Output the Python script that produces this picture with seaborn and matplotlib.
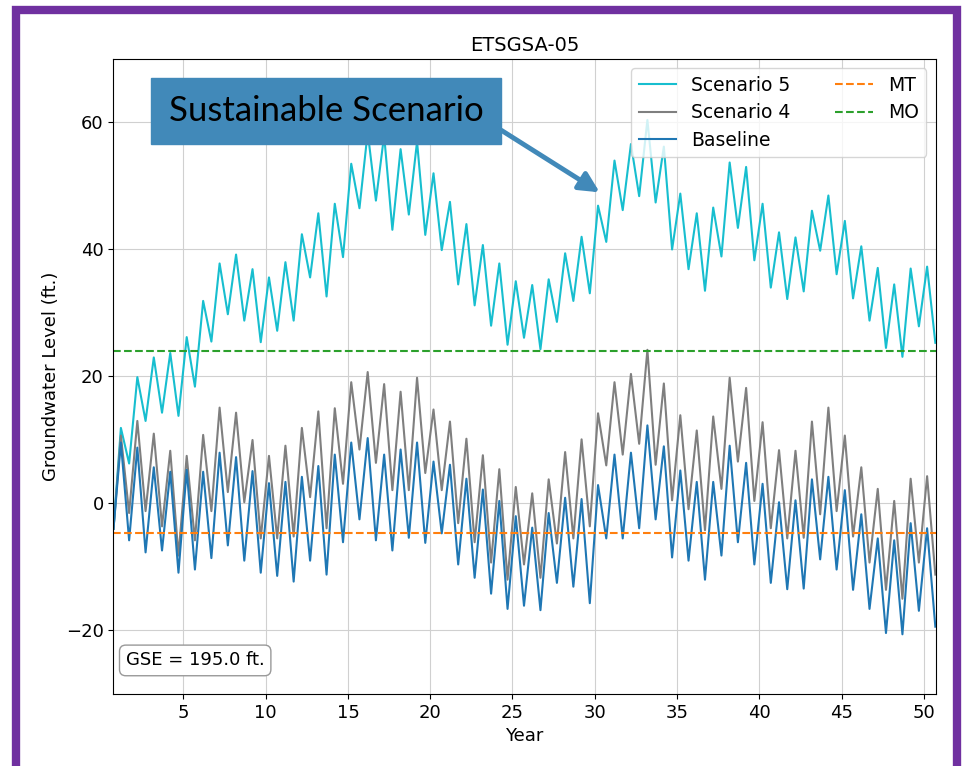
import numpy as np
import pandas as pd
import matplotlib
matplotlib.use("Agg")
import matplotlib.pyplot as plt
import seaborn as sns
from matplotlib.patches import Rectangle

# annual high / low water levels (ft.), years 1..50
years = list(range(1, 51))
start_level = -4.0

s5_high = [11.9, 19.9, 23.0, 23.7, 26.2, 31.9, 37.8, 39.2, 36.9, 35.6,
           38.0, 42.4, 45.7, 47.2, 53.5, 58.5, 58.0, 55.8, 57.0, 52.0,
           47.5, 44.0, 40.7, 37.8, 35.0, 34.4, 35.3, 39.4, 42.0, 46.9,
           54.0, 56.6, 60.4, 56.2, 48.8, 45.7, 46.6, 53.7, 53.0, 47.2,
           42.7, 41.9, 46.1, 48.5, 44.5, 40.5, 37.1, 34.5, 37.0, 37.3]
s5_low = [6.3, 13.0, 14.3, 13.8, 18.4, 25.5, 29.8, 28.8, 25.4, 27.2,
          28.8, 35.6, 32.6, 38.8, 46.5, 47.7, 43.1, 45.5, 42.3, 39.9,
          34.5, 31.2, 28.0, 25.0, 26.1, 24.3, 28.6, 31.9, 33.1, 41.2,
          46.2, 48.4, 47.4, 40.0, 36.9, 33.5, 38.9, 43.4, 38.3, 34.0,
          32.2, 33.4, 39.8, 36.1, 32.3, 28.8, 24.5, 23.1, 27.9, 25.3]

s4_high = [10.7, 13.0, 11.0, 8.3, 7.5, 10.8, 15.1, 14.3, 10.0, 7.5,
           9.1, 11.9, 14.5, 15.0, 19.1, 20.7, 18.8, 17.6, 19.8, 14.8,
           12.9, 10.2, 7.6, 5.4, 2.6, 1.6, 3.8, 8.1, 10.1, 14.2,
           19.1, 20.4, 24.2, 18.9, 13.9, 11.5, 13.7, 19.8, 18.2, 12.8,
           8.4, 8.3, 12.9, 15.1, 10.7, 5.7, 2.3, 0.4, 3.9, 4.3]
s4_low = [-1.5, -1.2, -3.6, -8.2, -5.8, -1.2, 1.8, 0.2, -5.5, -5.5,
          -5.2, 1.0, -3.9, 3.1, 8.5, 6.4, 2.1, 2.1, 4.8, 2.1,
          -3.1, -6.1, -9.3, -12.0, -9.6, -11.7, -6.3, -5.5, -3.6, 6.0,
          7.7, 9.4, 6.1, 0.5, -0.9, -4.2, 2.3, 6.6, 0.4, -3.9,
          -5.5, -5.4, -1.7, -1.2, -5.2, -9.3, -13.6, -15.0, -9.3, -11.2]

base_high = [9.6, 8.8, 5.7, 5.0, 5.3, 5.0, 8.0, 7.3, 5.1, 3.2,
             3.4, 4.2, 5.9, 7.7, 9.6, 10.3, 7.7, 8.5, 9.6, 6.6,
             6.1, 3.9, 2.2, 0.4, -2.0, -3.8, -1.5, 0.9, 0.7, 2.9,
             7.7, 8.0, 12.3, 9.0, 5.2, 3.4, 3.4, 9.1, 6.4, 3.1,
             0.2, 0.5, 3.8, 4.2, 2.1, -1.7, -5.5, -5.8, -3.1, -3.9]
base_low = [-5.8, -7.7, -7.4, -10.9, -10.4, -8.6, -6.6, -9.0, -10.9, -11.4,
            -12.3, -9.0, -11.2, -6.1, -2.5, -5.8, -7.4, -5.4, -6.2, -4.7,
            -9.6, -11.7, -14.2, -16.6, -16.1, -16.8, -12.5, -13.1, -15.7, -5.5,
            -5.5, -3.9, -2.5, -8.5, -9.0, -12.0, -8.2, -6.1, -9.6, -12.5,
            -13.5, -13.4, -8.8, -10.4, -13.6, -16.6, -20.4, -20.6, -16.9, -19.4]

mt_level = -4.7
mo_level = 24.0

names = ["Scenario 5", "Scenario 4", "Baseline"]
colors = ["#17becf", "#7f7f7f", "#1f77b4"]

# time of each turning point: high early in the year, low later
t = [0.75]
for y in years:
    t += [y + 0.2, y + 0.7]

rows = []
for name, hi, lo in zip(names, [s5_high, s4_high, base_high],
                        [s5_low, s4_low, base_low]):
    vals = [start_level]
    for h, l in zip(hi, lo):
        vals += [h, l]
    rows.append(pd.DataFrame({"Year": t, "Level": vals, "Series": name}))
df = pd.concat(rows, ignore_index=True)

fig = plt.figure(figsize=(9.65, 7.66), dpi=100)
ax = fig.add_axes([0.1176, 0.094, 0.852, 0.829])

sns.lineplot(data=df, x="Year", y="Level", hue="Series", hue_order=names,
             palette=colors, estimator=None, sort=False, lw=1.5, ax=ax)
for line in ax.get_lines():
    line.set_solid_joinstyle("round")
ax.axhline(mt_level, color="#ff7f0e", ls="--", lw=1.5, label="MT")
ax.axhline(mo_level, color="#2ca02c", ls="--", lw=1.5, label="MO")

ax.set_xlim(0.75, 50.72)
ax.set_ylim(-30, 70)
ax.set_xticks([5, 10, 15, 20, 25, 30, 35, 40, 45, 50])
ax.set_yticks([-20, 0, 20, 40, 60])
ax.tick_params(labelsize=13)
ax.grid(True, color="#d0d0d0")
ax.set_title("ETSGSA-05", fontsize=14)
ax.set_xlabel("Year", fontsize=13)
ax.set_ylabel("Groundwater Level (ft.)", fontsize=13)

h, l = ax.get_legend_handles_labels()
ax.legend(h, l, loc="upper right", ncol=2, fontsize=13.5, columnspacing=2.4,
          labelspacing=0.45)

ax.text(0.015, 0.045, "GSE = 195.0 ft.", transform=ax.transAxes, fontsize=13,
        bbox=dict(boxstyle="round,pad=0.35", fc="white", ec="#999999"))

ax.annotate("Sustainable Scenario", xy=(30.3, 49.0), xycoords="data",
            xytext=(0.338, 0.855), textcoords="figure fraction",
            ha="center", va="center", fontsize=25, family="Lato",
            bbox=dict(boxstyle="square,pad=0.5", fc="#4189b9", ec="#4189b9"),
            arrowprops=dict(arrowstyle="-|>", color="#4189b9", lw=3.5,
                            mutation_scale=30, shrinkA=0, shrinkB=0,
                            relpos=(1.0, 0.25)))

# slide frame
fig.patches.append(Rectangle((0.017, -0.2), 0.975, 1.187, transform=fig.transFigure,
                             fill=False, ec="#7030a0", lw=6, zorder=10))

fig.savefig("out.png", dpi=100)
